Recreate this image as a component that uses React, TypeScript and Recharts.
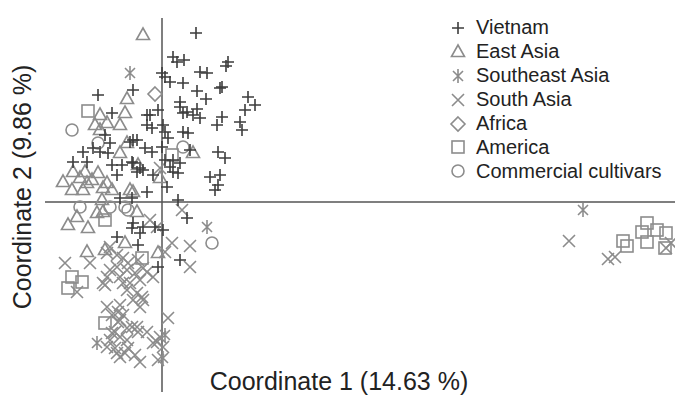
import { ScatterChart, Scatter, XAxis, YAxis, ReferenceLine, Legend, Customized } from "recharts";

type Pt = [number, number];

const GREY = "#8c8c8c";
const DARK = "#3d3d3d";

// PCoA coordinates (coordinate 1, coordinate 2)
const vietnam: Pt[] = [
  [0.34, 1.69], [0.11, 1.45], [0.15, 1.4], [0.22, 1.42], [0.38, 1.3], [0.45, 1.29], [0.66, 1.4], [0.64, 1.36],
  [0.0, 1.29], [0.03, 1.25], [0.08, 1.2], [0.21, 1.19], [-0.29, 1.12], [-0.64, 1.07], [0.35, 1.11], [0.44, 1.03],
  [0.6, 1.15], [0.58, 1.14], [0.86, 1.05], [0.93, 0.97], [0.83, 0.92], [0.18, 1.0], [0.18, 0.95], [0.25, 0.9],
  [0.35, 0.93], [0.6, 0.85], [-0.12, 0.87], [-0.04, 0.92], [-0.5, 0.89], [-0.15, 0.87], [0.21, 0.89], [0.31, 0.87],
  [0.38, 0.84], [0.55, 0.77], [0.78, 0.8], [0.8, 0.72], [-0.15, 0.77], [-0.1, 0.74], [0.01, 0.77], [0.03, 0.7],
  [0.21, 0.7], [0.26, 0.69], [-0.29, 0.62], [0.06, 0.64], [-0.17, 0.54], [-0.1, 0.5], [0.0, 0.55], [0.28, 0.52],
  [0.56, 0.5], [0.63, 0.44], [0.03, 0.42], [0.11, 0.42], [0.18, 0.39], [-0.29, 0.39], [-0.22, 0.34], [0.11, 0.3],
  [0.16, 0.29], [0.08, 0.35], [-0.09, 0.27], [0.48, 0.25], [0.58, 0.27], [0.56, 0.17], [0.53, 0.12], [0.05, 0.15],
  [-0.15, 0.1], [0.16, 0.02], [-0.57, 0.67], [-0.52, 0.59], [-0.79, 0.5], [-0.89, 0.4], [-0.75, 0.4], [-0.62, 0.5],
  [-0.54, 0.49], [-0.69, 0.54], [-0.32, 0.6], [-0.25, 0.62], [-0.45, 0.27], [-0.5, 0.37], [-0.4, 0.37], [-0.3, 0.4],
  [-0.25, 0.3], [-0.19, 0.32], [-0.42, 0.04], [-0.3, 0.04], [0.25, -0.16], [-0.29, -0.21], [-0.3, -0.26], [-0.19, -0.25],
  [-0.07, -0.25], [0.01, -0.28], [-0.22, -0.31], [-0.45, -0.35], [-0.24, -0.43], [0.18, -0.58], [-0.04, -0.65],
];

const eastAsia: Pt[] = [
  [-0.19, 1.67], [-0.35, 1.03], [-0.62, 0.87], [-0.37, 0.89], [-0.55, 0.79], [-0.42, 0.77], [-0.67, 0.77], [-0.62, 0.72],
  [-0.35, 0.59], [-0.42, 0.49], [-0.24, 0.37], [-0.02, 0.24], [-0.29, 0.1], [-0.99, 0.2], [-0.89, 0.3], [-0.77, 0.3],
  [-0.82, 0.24], [-0.7, 0.22], [-0.64, 0.29], [-0.75, 0.19], [-0.55, 0.19], [-0.5, 0.12], [-0.9, 0.12], [-0.79, 0.12],
  [-0.59, 0.14], [-0.6, 0.02], [-0.32, 0.12], [-0.85, -0.15], [-0.65, -0.11], [-0.59, -0.1], [-0.94, -0.23], [-0.74, -0.26],
  [-0.25, -0.1], [-0.75, -0.5], [-0.57, -0.48], [-0.37, -0.41], [-0.04, -0.51], [0.31, 0.49],
];

const southeastAsia: Pt[] = [
  [-0.32, 1.29], [4.21, -0.08], [0.45, -0.25], [0.03, -1.33], [0.01, -1.56], [-0.65, -1.41],
];

const southAsia: Pt[] = [
  [0.2, -0.08], [-0.12, -0.18], [-0.05, -0.25], [0.1, -0.41], [0.28, -0.44], [0.03, -0.5], [0.28, -0.65], [-0.97, -0.61],
  [-0.72, -0.61], [-0.85, -0.9], [-0.59, -0.81], [-0.52, -0.68], [-0.45, -0.65], [-0.35, -0.68], [-0.42, -0.75], [-0.27, -0.71],
  [-0.15, -0.7], [-0.09, -0.75], [-0.22, -0.78], [-0.32, -0.81], [-0.55, -0.75], [-0.35, -0.88], [-0.25, -0.91], [-0.19, -0.98],
  [-0.29, -0.98], [-0.55, -1.05], [-0.42, -1.03], [-0.22, -1.05], [-0.42, -1.18], [-0.35, -1.26], [-0.25, -1.25], [-0.15, -1.3],
  [-0.5, -1.31], [-0.42, -1.35], [0.06, -1.16], [-0.02, -1.35], [-0.55, -1.45], [-0.45, -1.51], [-0.34, -1.46], [-0.22, -1.6],
  [-0.04, -1.58], [-0.09, -1.41], [-0.42, -1.55], [-0.52, -1.38], [-0.35, -1.38], [-0.52, -0.45], [-0.45, -0.53], [-0.39, -0.56],
  [-0.55, -0.51], [-0.34, -0.61], [-0.24, -0.58], [-0.19, -0.66], [-0.57, -0.83], [-0.39, -0.81], [-0.2, -0.95], [-0.44, -1.1],
  [-0.5, -1.13], [-0.39, -1.13], [-0.3, -1.25], [-0.47, -1.3], [-0.24, -1.3], [-0.47, -1.46], [-0.37, -1.51], [-0.27, -1.53],
  [-0.05, -1.4], [0.01, -1.45], [-0.44, -1.2],
  [-0.02, 0.34], [4.07, -0.39], [4.46, -0.57], [4.53, -0.55], [5.04, -0.46], [5.09, -0.41],
];

const africa: Pt[] = [[-0.07, 1.08]];

const america: Pt[] = [
  [-0.74, 0.91], [0.1, 0.47], [-0.57, -0.18], [-0.2, -0.56], [-0.9, -0.75], [-0.8, -0.8], [-0.94, -0.86], [-0.57, -1.21],
  [4.61, -0.39], [4.65, -0.44], [4.8, -0.3], [4.85, -0.21], [4.95, -0.28], [5.04, -0.31], [4.85, -0.4], [5.03, -0.46],
];

const commercial: Pt[] = [
  [-0.9, 0.72], [-0.64, 0.59], [0.21, 0.55], [-0.82, -0.05], [-0.37, -0.05], [-0.52, -0.05], [-0.34, -0.08], [0.5, -0.41],
];

type Kind = "plus" | "triangle" | "asterisk" | "cross" | "diamond" | "square" | "circle";

const groups: { name: string; kind: Kind; color: string; data: Pt[] }[] = [
  { name: "Vietnam", kind: "plus", color: DARK, data: vietnam },
  { name: "East Asia", kind: "triangle", color: GREY, data: eastAsia },
  { name: "Southeast Asia", kind: "asterisk", color: GREY, data: southeastAsia },
  { name: "South Asia", kind: "cross", color: GREY, data: southAsia },
  { name: "Africa", kind: "diamond", color: GREY, data: africa },
  { name: "America", kind: "square", color: GREY, data: america },
  { name: "Commercial cultivars", kind: "circle", color: GREY, data: commercial },
];

function Marker({ kind, cx, cy, color }: { kind: Kind; cx: number; cy: number; color: string }) {
  const common = { stroke: color, strokeWidth: 1.6, fill: "none" };
  switch (kind) {
    case "plus":
      return <path d={`M${cx - 6},${cy}H${cx + 6}M${cx},${cy - 6}V${cy + 6}`} {...common} />;
    case "triangle":
      return <polygon points={`${cx},${cy - 7} ${cx - 6.5},${cy + 4.5} ${cx + 6.5},${cy + 4.5}`} {...common} />;
    case "asterisk":
      return (
        <path
          d={`M${cx - 5},${cy - 5}L${cx + 5},${cy + 5}M${cx + 5},${cy - 5}L${cx - 5},${cy + 5}M${cx},${cy - 7}V${cy + 7}`}
          {...common}
        />
      );
    case "cross":
      return <path d={`M${cx - 6},${cy - 6}L${cx + 6},${cy + 6}M${cx + 6},${cy - 6}L${cx - 6},${cy + 6}`} {...common} />;
    case "diamond":
      return <polygon points={`${cx},${cy - 7} ${cx + 7},${cy} ${cx},${cy + 7} ${cx - 7},${cy}`} {...common} />;
    case "square":
      return <rect x={cx - 6} y={cy - 6} width={12} height={12} {...common} />;
    default:
      return <circle cx={cx} cy={cy} r={6} {...common} />;
  }
}

function LegendBox() {
  return (
    <div style={{ fontFamily: "'Liberation Sans', Arial, sans-serif", fontSize: 20, color: "#222" }}>
      {groups.map((g) => (
        <div key={g.name} style={{ display: "flex", alignItems: "center", height: 23.9 }}>
          <svg width={22} height={20} style={{ marginRight: 6 }}>
            <Marker kind={g.kind} cx={10} cy={10} color={g.color} />
          </svg>
          <span>{g.name}</span>
        </div>
      ))}
    </div>
  );
}

function AxisTitles() {
  const font = "'Liberation Sans', Arial, sans-serif";
  return (
    <g>
      <text x={339} y={381} textAnchor="middle" dominantBaseline="central" fontSize={25} fontFamily={font} fill="#222">
        Coordinate 1 (14.63 %)
      </text>
      <text
        x={22}
        y={187}
        textAnchor="middle"
        dominantBaseline="central"
        fontSize={25}
        fontFamily={font}
        fill="#222"
        transform="rotate(-90 22 187)"
      >
        Coordinate 2 (9.86 %)
      </text>
    </g>
  );
}

// draw grey groups first so the dark Vietnam crosses sit on top
const drawOrder = [...groups.slice(1), groups[0]];

export default function App() {
  return (
    <div>
      <style>{"body{margin:0;}"}</style>
      <ScatterChart width={688} height={407} margin={{ top: 18, right: 13, bottom: 15, left: 45 }}>
        <XAxis type="number" dataKey="x" domain={[-1.17, 5.13]} hide allowDataOverflow />
        <YAxis type="number" dataKey="y" domain={[-1.9, 1.84]} hide allowDataOverflow />
        <ReferenceLine x={0} stroke="#555" strokeWidth={1.5} />
        <ReferenceLine y={0} stroke="#555" strokeWidth={1.5} />
        {drawOrder.map((g) => (
          <Scatter
            key={g.name}
            name={g.name}
            data={g.data.map(([x, y]) => ({ x, y }))}
            isAnimationActive={false}
            shape={(p: any) => <Marker kind={g.kind} cx={p.cx} cy={p.cy} color={g.color} />}
          />
        ))}
        <Legend
          layout="vertical"
          align="center"
          verticalAlign="middle"
          wrapperStyle={{ top: 16, left: 448, width: 240 }}
          content={() => <LegendBox />}
        />
        <Customized component={AxisTitles} />
      </ScatterChart>
    </div>
  );
}
